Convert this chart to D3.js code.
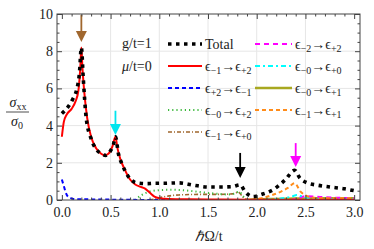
<!DOCTYPE html>
<html>
<head>
<meta charset="UTF-8">
<script src="https://d3js.org/d3.v7.min.js"></script>
<style>
  body { margin: 0; background: #fff; }
  svg { display: block; font-family: "Liberation Serif", "Times New Roman", serif; }
</style>
</head>
<body>
<svg id="chart" width="374" height="249"></svg>
<script>
// ---- data ----
const totalX = [0, 0.03, 0.07, 0.11, 0.15, 0.18, 0.2, 0.22, 0.25, 0.3, 0.35, 0.4, 0.45, 0.5, 0.53, 0.55, 0.58, 0.62, 0.66, 0.7, 0.75, 0.8, 0.87, 0.95, 1.05, 1.2, 1.35, 1.5, 1.65, 1.75, 1.83, 1.88, 1.96, 2.06, 2.17, 2.29, 2.39, 2.44, 2.52, 2.62, 2.75, 2.9, 3.0];
const totalY = [4.65, 4.8, 5.05, 5.4, 5.9, 6.8, 8.2, 6.5, 4.4, 3.3, 2.75, 2.5, 2.4, 2.65, 3.0, 3.4, 2.5, 1.9, 1.45, 1.15, 0.95, 0.9, 0.88, 0.9, 0.9, 0.92, 0.8, 0.7, 0.7, 0.72, 0.82, 0.45, 0.18, 0.32, 0.56, 1.07, 1.6, 1.2, 0.92, 0.8, 0.7, 0.6, 0.5];

const redX = [0, 0.02, 0.05, 0.1, 0.14, 0.17, 0.19, 0.2, 0.21, 0.23, 0.26, 0.3, 0.35, 0.4, 0.44, 0.48, 0.52, 0.55, 0.57, 0.6, 0.64, 0.7, 0.75, 0.8, 0.85, 0.9, 0.95, 1.0, 1.1, 1.3, 1.6, 2.0, 2.5, 3.0];
const redY = [3.4, 4.2, 4.6, 4.9, 5.3, 5.9, 7.2, 8.2, 7.2, 5.8, 4.4, 3.4, 2.8, 2.5, 2.4, 2.5, 2.9, 3.4, 2.8, 2.2, 1.7, 1.1, 0.85, 0.72, 0.62, 0.4, 0.18, 0.1, 0.06, 0.04, 0.03, 0.02, 0.01, 0.01];

const blueX = [0, 0.02, 0.04, 0.06, 0.09, 0.12, 0.2, 0.35, 0.5, 0.7, 1.0, 3.0];
const blueY = [1.1, 0.75, 0.4, 0.2, 0.1, 0.06, 0.04, 0.03, 0.02, 0.01, 0, 0];

const greenX = [0.75, 0.8, 0.85, 0.9, 1.0, 1.1, 1.2, 1.3, 1.4, 1.5, 1.6, 1.7, 1.78, 1.82, 1.86, 1.9, 1.95];
const greenY = [0, 0.2, 0.35, 0.45, 0.53, 0.55, 0.54, 0.5, 0.44, 0.38, 0.33, 0.3, 0.36, 0.45, 0.2, 0.05, 0];

const brownX = [0.9, 0.95, 1.0, 1.1, 1.2, 1.4, 1.6, 1.75, 1.81, 1.86, 1.9, 2.0, 3.0];
const brownY = [0, 0.05, 0.12, 0.22, 0.27, 0.3, 0.3, 0.33, 0.42, 0.15, 0.03, 0, 0];

const orangeX = [1.95, 2.05, 2.15, 2.25, 2.32, 2.39, 2.45, 2.5, 2.55, 2.65, 2.8, 3.0];
const orangeY = [0, 0.1, 0.25, 0.45, 0.65, 0.9, 0.45, 0.25, 0.15, 0.1, 0.1, 0.1];

const cyanX = [2.1, 2.2, 2.3, 2.37, 2.41, 2.46, 2.55, 2.7, 3.0];
const cyanY = [0.02, 0.05, 0.12, 0.2, 0.27, 0.2, 0.08, 0.04, 0.02];

const magentaX = [2.35, 2.42, 2.5, 2.6, 2.7, 2.85, 3.0];
const magentaY = [0, 0.08, 0.2, 0.18, 0.15, 0.12, 0.1];

const oliveX = [1.9, 2.0, 2.2, 2.4, 2.6, 2.8, 3.0];
const oliveY = [0, 0.04, 0.06, 0.08, 0.1, 0.1, 0.1];

// arrows: x position, top of shaft, tip
const arrowX = [0.2, 0.55, 1.83, 2.4];
const arrowTop = [9.95, 4.8, 2.53, 3.06];
const arrowTip = [8.5, 3.5, 1.18, 1.77];
const arrowColor = ["#a0672e", "#00e5ee", "#000000", "#ff00ff"];

const xMajor = [0, 0.5, 1, 1.5, 2, 2.5, 3];
const yMajor = [0, 2, 4, 6, 8, 10];

// ---- series with styles ----
const series = [
  { x: oliveX, y: oliveY, color: "#a8a820", dash: null, w: 2.4, sub: ["−0", "+1"] },
  { x: magentaX, y: magentaY, color: "#ff00ff", dash: "5,4", w: 2, sub: ["−2", "+2"] },
  { x: cyanX, y: cyanY, color: "#00ffff", dash: "5,3,2,3", w: 2, sub: ["−0", "+0"] },
  { x: orangeX, y: orangeY, color: "#ff8c1a", dash: "4,3", w: 2, sub: ["−1", "+1"] },
  { x: brownX, y: brownY, color: "#a0672e", dash: "4,2,1,2", w: 1.6, sub: ["−1", "+0"] },
  { x: greenX, y: greenY, color: "#3cb83c", dash: "1.2,3", w: 2, sub: ["−0", "+2"] },
  { x: blueX, y: blueY, color: "#0000ff", dash: "4,3", w: 2, sub: ["+2", "−1"] },
  { x: redX, y: redY, color: "#ff0000", dash: null, w: 2, sub: ["−1", "+2"] },
  { x: totalX, y: totalY, color: "#000000", dash: "3.5,4.5", w: 3.6, sub: null }
];

const svg = d3.select("#chart");
const x = d3.scaleLinear().domain([-0.05, 3.06]).range([57, 360]);
const y = d3.scaleLinear().domain([0, 10]).range([200, 14]);

svg.append("rect").attr("width", 374).attr("height", 249).attr("fill", "#fff");

// grid
const grid = svg.append("g").attr("stroke", "#e6e6e6").attr("stroke-width", 1);
[0.5, 1, 1.5, 2, 2.5].forEach(v => grid.append("line")
  .attr("x1", x(v)).attr("x2", x(v)).attr("y1", y(10)).attr("y2", y(0)));
[2, 4, 6, 8].forEach(v => grid.append("line")
  .attr("x1", x(-0.05)).attr("x2", x(3.06)).attr("y1", y(v)).attr("y2", y(v)));

svg.append("defs").append("clipPath").attr("id", "clip")
  .append("rect").attr("x", x(-0.05)).attr("y", y(10)).attr("width", x(3.06) - x(-0.05)).attr("height", y(0) - y(10));

// curves
const plot = svg.append("g").attr("clip-path", "url(#clip)");
const line = d3.line().x(d => x(d[0])).y(d => y(d[1])).curve(d3.curveMonotoneX);
series.forEach(s => {
  plot.append("path")
    .datum(s.x.map((v, i) => [v, s.y[i]]))
    .attr("d", line)
    .attr("fill", "none")
    .attr("stroke", s.color)
    .attr("stroke-width", s.w)
    .attr("stroke-dasharray", s.dash);
});

// arrows
arrowX.forEach((v, i) => {
  const ax = x(v), top = y(arrowTop[i]), tip = y(arrowTip[i]);
  const g = svg.append("g").attr("fill", arrowColor[i]).attr("stroke", arrowColor[i]);
  g.append("line").attr("x1", ax).attr("x2", ax).attr("y1", top).attr("y2", tip - 8).attr("stroke-width", 1.8);
  g.append("path").attr("stroke", "none")
    .attr("d", `M${ax - 5.5},${tip - 11}L${ax + 5.5},${tip - 11}L${ax},${tip}Z`);
});

// frame + ticks
const frame = svg.append("g");
frame.append("rect")
  .attr("x", x(-0.05)).attr("y", y(10)).attr("width", x(3.06) - x(-0.05)).attr("height", y(0) - y(10))
  .attr("fill", "none").attr("stroke", "#444").attr("stroke-width", 1);

const xMinor = d3.range(0, 3.01, 0.1).map(v => +v.toFixed(1)).filter(v => !xMajor.includes(v));
const yMinor = d3.range(0, 10.01, 0.5).filter(v => !yMajor.includes(v));

function styleAxis(g) {
  g.select(".domain").remove();
  g.selectAll("line").attr("stroke", "#444");
  g.selectAll("text").attr("font-size", 14).attr("fill", "#222").attr("font-family", "Liberation Serif, serif");
}

svg.append("g").attr("transform", `translate(0,${y(0)})`)
  .call(d3.axisBottom(x).tickValues(xMajor).tickSize(-5).tickPadding(7).tickFormat(d3.format(".1f"))).call(styleAxis);
svg.append("g").attr("transform", `translate(0,${y(0)})`)
  .call(d3.axisBottom(x).tickValues(xMinor).tickSize(-2.5).tickFormat("")).call(styleAxis);
svg.append("g").attr("transform", `translate(0,${y(10)})`)
  .call(d3.axisTop(x).tickValues(xMajor).tickSize(-5).tickFormat("")).call(styleAxis);
svg.append("g").attr("transform", `translate(0,${y(10)})`)
  .call(d3.axisTop(x).tickValues(xMinor).tickSize(-2.5).tickFormat("")).call(styleAxis);
svg.append("g").attr("transform", `translate(${x(-0.05)},0)`)
  .call(d3.axisLeft(y).tickValues(yMajor).tickSize(-5).tickPadding(4).tickFormat(d3.format("d"))).call(styleAxis);
svg.append("g").attr("transform", `translate(${x(-0.05)},0)`)
  .call(d3.axisLeft(y).tickValues(yMinor).tickSize(-2.5).tickFormat("")).call(styleAxis);
svg.append("g").attr("transform", `translate(${x(3.06)},0)`)
  .call(d3.axisRight(y).tickValues(yMajor).tickSize(-5).tickFormat("")).call(styleAxis);
svg.append("g").attr("transform", `translate(${x(3.06)},0)`)
  .call(d3.axisRight(y).tickValues(yMinor).tickSize(-2.5).tickFormat("")).call(styleAxis);

// axis labels
svg.append("text").attr("x", 209).attr("y", 241).attr("text-anchor", "middle")
  .attr("font-size", 14).attr("fill", "#222")
  .call(t => { t.append("tspan").attr("font-style", "italic").text("ℏ"); t.append("tspan").text("Ω/t"); });

const yl = svg.append("g").attr("fill", "#222");
yl.append("text").attr("x", 18).attr("y", 107).attr("text-anchor", "middle").attr("font-size", 14)
  .call(t => { t.append("tspan").attr("font-style", "italic").text("σ"); t.append("tspan").attr("font-size", 10).attr("dy", 3).text("xx"); });
yl.append("line").attr("x1", 6).attr("x2", 29).attr("y1", 112).attr("y2", 112).attr("stroke", "#222").attr("stroke-width", 0.8);
yl.append("text").attr("x", 17).attr("y", 126).attr("text-anchor", "middle").attr("font-size", 14)
  .call(t => { t.append("tspan").attr("font-style", "italic").text("σ"); t.append("tspan").attr("font-size", 10).attr("dy", 3).text("0"); });

// parameter notes
svg.append("text").attr("x", 122).attr("y", 48).attr("font-size", 14).attr("fill", "#222").text("g/t=1");
svg.append("text").attr("x", 122).attr("y", 71).attr("font-size", 14).attr("fill", "#222")
  .call(t => { t.append("tspan").attr("font-style", "italic").text("μ"); t.append("tspan").text("/t=0"); });

// legend
const legendOrder = [8, 1, 7, 2, 6, 0, 5, 3, 4];
const legendPos = [[0, 0], [1, 0], [0, 1], [1, 1], [0, 2], [1, 2], [0, 3], [1, 3], [0, 4]];
const colLine = [[168, 202], [255, 292]];
legendOrder.forEach((si, k) => {
  const s = series[si];
  const [c, r] = legendPos[k];
  const ly = 44 + r * 22;
  svg.append("line").attr("x1", colLine[c][0]).attr("x2", colLine[c][1]).attr("y1", ly).attr("y2", ly)
    .attr("stroke", s.color).attr("stroke-width", s.w).attr("stroke-dasharray", s.dash);
  const t = svg.append("text").attr("x", colLine[c][1] + 3).attr("y", ly + 4.5).attr("font-size", 14).attr("fill", "#222");
  if (!s.sub) { t.text("Total"); return; }
  t.append("tspan").text("ϵ");
  t.append("tspan").attr("font-size", 10).attr("dy", 3).text(s.sub[0]);
  t.append("tspan").attr("dy", -3).text("→ϵ");
  t.append("tspan").attr("font-size", 10).attr("dy", 3).text(s.sub[1]);
});
</script>
</body>
</html>
